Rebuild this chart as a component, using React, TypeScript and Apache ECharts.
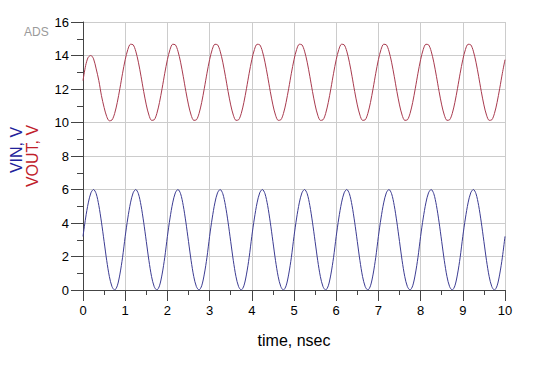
import React, { useEffect, useRef } from "react";
import * as echarts from "echarts";

const STEP = 0.0625; // ns between samples
const xTicks = [0, 1, 2, 3, 4, 5, 6, 7, 8, 9, 10];
const yTicks = [0, 2, 4, 6, 8, 10, 12, 14, 16];

const vin = [
  3.2, 4.3, 5.2, 5.8, 6.0, 5.75, 5.05, 4.05, 2.9, 1.75, 0.8, 0.2, 0.0, 0.25, 0.95, 1.95,
  3.2, 4.3, 5.2, 5.8, 6.0, 5.75, 5.05, 4.05, 2.9, 1.75, 0.8, 0.2, 0.0, 0.25, 0.95, 1.95,
  3.2, 4.3, 5.2, 5.8, 6.0, 5.75, 5.05, 4.05, 2.9, 1.75, 0.8, 0.2, 0.0, 0.25, 0.95, 1.95,
  3.2, 4.3, 5.2, 5.8, 6.0, 5.75, 5.05, 4.05, 2.9, 1.75, 0.8, 0.2, 0.0, 0.25, 0.95, 1.95,
  3.2, 4.3, 5.2, 5.8, 6.0, 5.75, 5.05, 4.05, 2.9, 1.75, 0.8, 0.2, 0.0, 0.25, 0.95, 1.95,
  3.2, 4.3, 5.2, 5.8, 6.0, 5.75, 5.05, 4.05, 2.9, 1.75, 0.8, 0.2, 0.0, 0.25, 0.95, 1.95,
  3.2, 4.3, 5.2, 5.8, 6.0, 5.75, 5.05, 4.05, 2.9, 1.75, 0.8, 0.2, 0.0, 0.25, 0.95, 1.95,
  3.2, 4.3, 5.2, 5.8, 6.0, 5.75, 5.05, 4.05, 2.9, 1.75, 0.8, 0.2, 0.0, 0.25, 0.95, 1.95,
  3.2, 4.3, 5.2, 5.8, 6.0, 5.75, 5.05, 4.05, 2.9, 1.75, 0.8, 0.2, 0.0, 0.25, 0.95, 1.95,
  3.2, 4.3, 5.2, 5.8, 6.0, 5.75, 5.05, 4.05, 2.9, 1.75, 0.8, 0.2, 0.0, 0.25, 0.95, 1.95,
  3.2,
];

const vout = [
  12.5, 13.4, 13.9, 14.0, 13.8, 13.2, 12.5, 11.6, 10.9, 10.35, 10.1, 10.15, 10.54, 11.2, 12.04, 12.94,
  13.75, 14.36, 14.67, 14.64, 14.26, 13.6, 12.76, 11.86, 11.05, 10.44, 10.13, 10.16, 10.54, 11.2, 12.04, 12.94,
  13.75, 14.36, 14.67, 14.64, 14.26, 13.6, 12.76, 11.86, 11.05, 10.44, 10.13, 10.16, 10.54, 11.2, 12.04, 12.94,
  13.75, 14.36, 14.67, 14.64, 14.26, 13.6, 12.76, 11.86, 11.05, 10.44, 10.13, 10.16, 10.54, 11.2, 12.04, 12.94,
  13.75, 14.36, 14.67, 14.64, 14.26, 13.6, 12.76, 11.86, 11.05, 10.44, 10.13, 10.16, 10.54, 11.2, 12.04, 12.94,
  13.75, 14.36, 14.67, 14.64, 14.26, 13.6, 12.76, 11.86, 11.05, 10.44, 10.13, 10.16, 10.54, 11.2, 12.04, 12.94,
  13.75, 14.36, 14.67, 14.64, 14.26, 13.6, 12.76, 11.86, 11.05, 10.44, 10.13, 10.16, 10.54, 11.2, 12.04, 12.94,
  13.75, 14.36, 14.67, 14.64, 14.26, 13.6, 12.76, 11.86, 11.05, 10.44, 10.13, 10.16, 10.54, 11.2, 12.04, 12.94,
  13.75, 14.36, 14.67, 14.64, 14.26, 13.6, 12.76, 11.86, 11.05, 10.44, 10.13, 10.16, 10.54, 11.2, 12.04, 12.94,
  13.75, 14.36, 14.67, 14.64, 14.26, 13.6, 12.76, 11.86, 11.05, 10.44, 10.13, 10.16, 10.54, 11.2, 12.04, 12.94,
  13.75,
];

const FONT = "Liberation Sans, Arial, sans-serif";

export default function App() {
  const ref = useRef<HTMLDivElement>(null);
  useEffect(() => {
    if (!ref.current) return;
    const chart = echarts.init(ref.current, null, { renderer: "svg" });
    const toPairs = (arr: number[]) => arr.map((v, i) => [i * STEP, v]);
    chart.setOption({
      animation: false,
      backgroundColor: "#ffffff",
      grid: { left: 83, right: 35, top: 22, bottom: 76 },
      xAxis: {
        type: "value",
        min: xTicks[0],
        max: xTicks[xTicks.length - 1],
        interval: 1,
        name: "time, nsec",
        nameLocation: "middle",
        nameGap: 42,
        nameTextStyle: { color: "#000", fontSize: 16, fontFamily: FONT },
        axisLine: { show: true, lineStyle: { color: "#444", width: 1 } },
        axisTick: { show: true, length: 11, lineStyle: { color: "#444" } },
        minorTick: { show: true, splitNumber: 2, length: 5, lineStyle: { color: "#444" } },
        axisLabel: { color: "#000", fontSize: 13, fontFamily: FONT, margin: 14 },
        splitLine: { show: true, lineStyle: { color: "#cccccc", width: 1 } },
      },
      yAxis: {
        type: "value",
        min: yTicks[0],
        max: yTicks[yTicks.length - 1],
        interval: 2,
        axisLine: { show: true, lineStyle: { color: "#444", width: 1 } },
        axisTick: { show: true, length: 12, lineStyle: { color: "#444" } },
        minorTick: { show: true, splitNumber: 2, length: 6, lineStyle: { color: "#444" } },
        axisLabel: { color: "#000", fontSize: 13, fontFamily: FONT, margin: 14 },
        splitLine: { show: true, lineStyle: { color: "#cccccc", width: 1 } },
      },
      graphic: [
        {
          type: "text",
          left: 24,
          top: 26,
          style: { text: "ADS", fill: "#9a9a9a", fontSize: 12, fontFamily: FONT },
        },
        {
          type: "text",
          x: 16,
          y: 150,
          rotation: Math.PI / 2,
          style: {
            text: "VIN, V",
            fill: "#22229a",
            fontSize: 16,
            fontFamily: FONT,
            align: "center",
            verticalAlign: "middle",
          },
        },
        {
          type: "text",
          x: 32,
          y: 156,
          rotation: Math.PI / 2,
          style: {
            text: "VOUT, V",
            fill: "#c0202a",
            fontSize: 16,
            fontFamily: FONT,
            align: "center",
            verticalAlign: "middle",
          },
        },
      ],
      series: [
        {
          name: "VOUT",
          type: "line",
          data: toPairs(vout),
          showSymbol: false,
          smooth: 0.3,
          lineStyle: { color: "#a83a4e", width: 1 },
        },
        {
          name: "VIN",
          type: "line",
          data: toPairs(vin),
          showSymbol: false,
          smooth: 0.3,
          lineStyle: { color: "#3c3c92", width: 1 },
        },
      ],
    });
    return () => chart.dispose();
  }, []);
  return (
    <div
      ref={ref}
      style={{ position: "fixed", left: 0, top: 0, width: 540, height: 366, background: "#fff" }}
    />
  );
}
